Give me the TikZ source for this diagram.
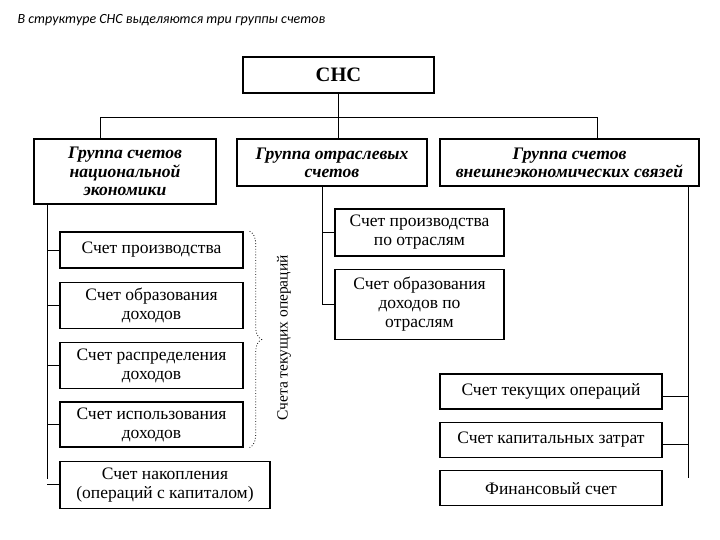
\documentclass[tikz,border=0pt]{standalone}
\usepackage{fontspec}
\setmainfont{Liberation Serif}
\newfontfamily\titlefont{Carlito}
\usepackage{tikz}
\usetikzlibrary{calc}
\usetikzlibrary{positioning}
\usetikzlibrary{decorations.pathreplacing}

\begin{document}
\begin{tikzpicture}[x=1pt, y=-1pt,
        acctbox/.style={rectangle, draw=black, line width=1.3pt, inner sep=1pt, align=center, font=\fontsize{17.5}{19}\selectfont},
        groupbox/.style={acctbox, font=\fontsize{17.6}{18.3}\selectfont\bfseries\itshape},
        link/.style={-, line width=0.9pt}]
        \useasboundingbox (0,0) rectangle (720,540);
        \node[anchor=west, font=\fontsize{14}{16}\selectfont\titlefont\itshape] (title) at (14,20) {В структуре СНС выделяются три группы счетов};

        \node[acctbox, minimum width=191pt, minimum height=36pt, font=\fontsize{20.5}{22}\selectfont\bfseries] (sns) at (338.5,75) {СНС};

        \node[groupbox, minimum width=182pt, minimum height=65pt] (grpnat) at (125,171.5) {Группа счетов\\национальной\\экономики};
        \node[groupbox, minimum width=190pt, minimum height=47pt] (grpind) at (332,162.5) {Группа отраслевых\\счетов};
        \node[groupbox, minimum width=259pt, minimum height=47pt] (grpext) at (569.5,162.5) {Группа счетов\\внешнеэкономических связей};

        % national economy accounts
        \node[acctbox, minimum width=183pt, minimum height=36pt] (lprod) at (151.5,250) {Счет производства};
        \node[acctbox, minimum width=183pt, minimum height=46pt] (linc) [below=13pt of lprod] {Счет образования\\доходов};
        \node[acctbox, minimum width=183pt, minimum height=46pt] (ldist) [below=13pt of linc] {Счет распределения\\доходов};
        \node[acctbox, minimum width=183pt, minimum height=45pt] (luse) [below=12pt of ldist] {Счет использования\\доходов};
        \node[acctbox, minimum width=210pt, minimum height=47pt] (lacc) [below right=13pt and 0pt of luse.south west] {Счет накопления\\(операций с капиталом)};

        \draw[decorate, decoration={brace, amplitude=12pt}, dotted, thick] ([xshift=6pt]lprod.north east) -- ([xshift=6pt]luse.south east);
        \node[rotate=90, font=\fontsize{15.5}{18}\selectfont] (lcur) at (284,338) {Счета текущих операций};

        % industry accounts
        \node[acctbox, minimum width=169pt, minimum height=47pt] (mprod) at (419.5,232.5) {Счет производства\\по отраслям};
        \node[acctbox, minimum width=169pt, minimum height=70pt] (minc) [below=12pt of mprod] {Счет образования\\доходов по\\отраслям};

        % external accounts
        \node[acctbox, minimum width=222pt, minimum height=35pt] (rcur) at (551,391.5) {Счет текущих операций};
        \node[acctbox, minimum width=222pt, minimum height=35pt] (rcap) [below=12pt of rcur] {Счет капитальных затрат};
        \node[acctbox, minimum width=222pt, minimum height=35pt] (rfin) [below=12pt of rcap] {Финансовый счет};

        \coordinate (busl) at (100,117);
        \coordinate (busr) at (597,117);
        \coordinate (spl) at (47,479);
        \coordinate (spm) at (322,303);
        \coordinate (spr) at (688,478);

        \draw[link] (sns.south) -- (sns.south |- grpind.north);
        \draw[link] (grpnat.north -| busl) -- (busl) -- (busr) -- (grpext.north -| busr);

        \draw[link] (grpnat.south -| spl) -- (spl);
        \foreach \acc in {lprod, linc, ldist, luse, lacc}
            \draw[link] (\acc.west) -- (\acc.west -| spl);

        \draw[link] (grpind.south -| spm) -- (minc.west -| spm);
        \foreach \acc in {mprod, minc}
            \draw[link] (\acc.west) -- (\acc.west -| spm);

        \draw[link] (grpext.south -| spr) -- (spr);
        \foreach \acc in {rcur, rcap}
            \draw[link] ([yshift=-5pt]\acc.east) -- ([yshift=-5pt]\acc.east -| spr);
    \end{tikzpicture}
\end{document}
